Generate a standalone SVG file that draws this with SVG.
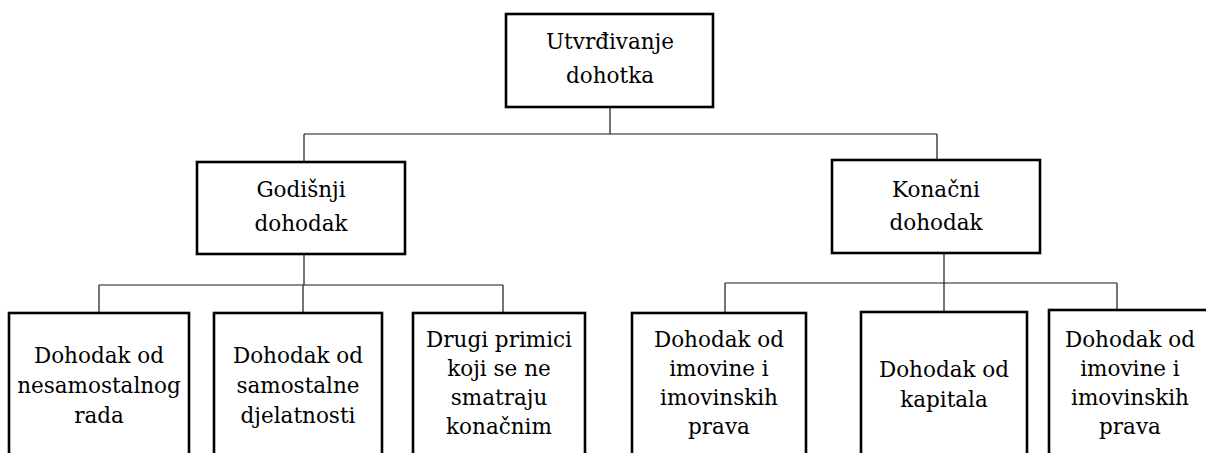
<svg xmlns="http://www.w3.org/2000/svg" width="1206" height="453" viewBox="0 0 1206 453">
  <style>
    .box { fill: #ffffff; stroke: #000000; stroke-width: 2.6; }
    .conn { fill: none; stroke: #1a1a1a; stroke-width: 1.2; }
    .lbl { font-family: "DejaVu Serif", "Liberation Serif", serif; font-size: 21.5px; fill: #000000; text-anchor: middle; }
  </style>
  <rect width="1206" height="453" fill="#ffffff"/>

  <!-- connectors -->
  <g id="connectors">
    <path class="conn" d="M610 107 V134 M304 134 H937 M304 134 V162 M937 134 V160"/>
    <path class="conn" d="M304 254 V285 M99 285 H503 M99 285 V313 M303 285 V313 M503 285 V313"/>
    <path class="conn" d="M944 253 V283 M725 283 H1117 M725 283 V313 M944 283 V312 M1117 283 V310"/>
  </g>

  <g id="root">
    <rect class="box" x="506" y="14" width="207" height="93"/>
    <text class="lbl" x="610" y="49">Utvrđivanje</text>
    <text class="lbl" x="610" y="83">dohotka</text>
  </g>

  <g id="godisnji">
    <rect class="box" x="197" y="162" width="208" height="92"/>
    <text class="lbl" x="301" y="197">Godišnji</text>
    <text class="lbl" x="301" y="231">dohodak</text>
  </g>

  <g id="konacni">
    <rect class="box" x="832" y="160" width="208" height="93"/>
    <text class="lbl" x="936" y="197">Konačni</text>
    <text class="lbl" x="936" y="230">dohodak</text>
  </g>

  <g id="nesamostalni">
    <rect class="box" x="9" y="313" width="180" height="160"/>
    <text class="lbl" x="99" y="363">Dohodak od</text>
    <text class="lbl" x="99" y="393">nesamostalnog</text>
    <text class="lbl" x="99" y="423">rada</text>
  </g>

  <g id="samostalni">
    <rect class="box" x="214" y="313" width="168" height="160"/>
    <text class="lbl" x="298" y="363">Dohodak od</text>
    <text class="lbl" x="298" y="393">samostalne</text>
    <text class="lbl" x="298" y="423">djelatnosti</text>
  </g>

  <g id="drugi">
    <rect class="box" x="413" y="313" width="172" height="160"/>
    <text class="lbl" x="499" y="347">Drugi primici</text>
    <text class="lbl" x="499" y="376">koji se ne</text>
    <text class="lbl" x="499" y="405">smatraju</text>
    <text class="lbl" x="499" y="434">konačnim</text>
  </g>

  <g id="imovina1">
    <rect class="box" x="632" y="313" width="174" height="160"/>
    <text class="lbl" x="719" y="347">Dohodak od</text>
    <text class="lbl" x="719" y="376">imovine i</text>
    <text class="lbl" x="719" y="405">imovinskih</text>
    <text class="lbl" x="719" y="434">prava</text>
  </g>

  <g id="kapital">
    <rect class="box" x="861" y="312" width="166" height="160"/>
    <text class="lbl" x="944" y="377">Dohodak od</text>
    <text class="lbl" x="944" y="407">kapitala</text>
  </g>

  <g id="imovina2">
    <rect class="box" x="1049" y="310" width="162" height="160"/>
    <text class="lbl" x="1130" y="347">Dohodak od</text>
    <text class="lbl" x="1130" y="376">imovine i</text>
    <text class="lbl" x="1130" y="405">imovinskih</text>
    <text class="lbl" x="1130" y="434">prava</text>
  </g>
</svg>
